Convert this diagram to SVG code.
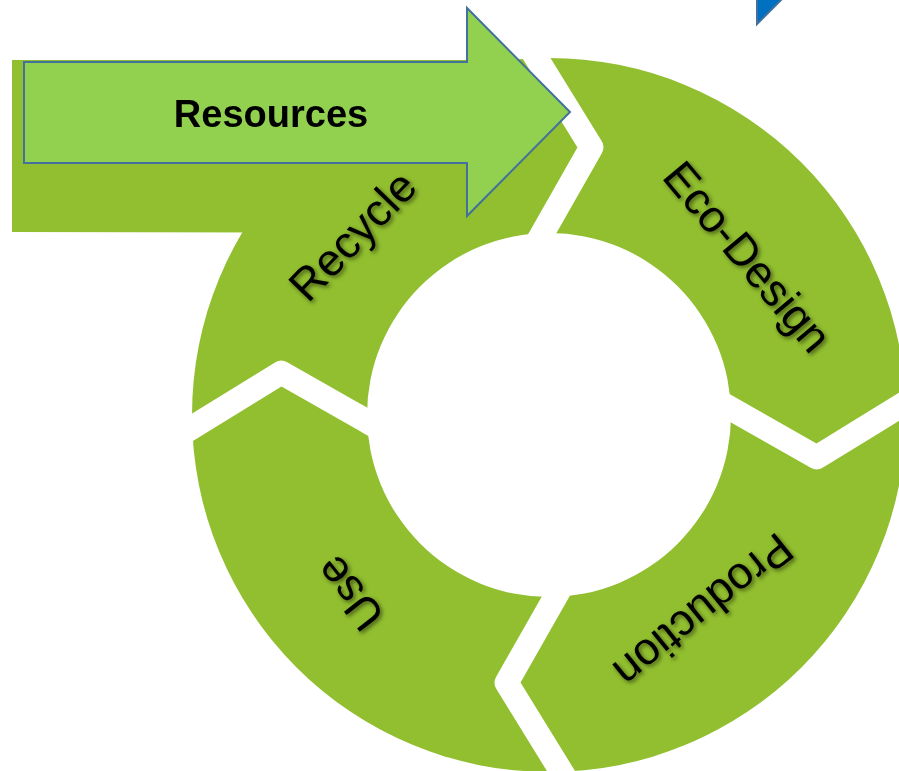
<svg xmlns="http://www.w3.org/2000/svg" width="899" height="771" viewBox="0 0 899 771">
  <defs>
    <style>
      .seg { fill: #91BF2F; }
      .lbl { font-family: "Liberation Sans", Arial, sans-serif; font-size: 45px; fill: #000; text-anchor: middle; }
      .gap { fill: none; stroke: #000; stroke-width: 24; stroke-linejoin: round; stroke-linecap: butt; }
      .res { fill: #92D050; stroke: #41719C; stroke-width: 2; }
    </style>
    <clipPath id="ring">
      <path clip-rule="evenodd" d="M192,415 a357,357 0 1,0 714,0 a357,357 0 1,0 -714,0 Z M367,415 a182,182 0 1,0 364,0 a182,182 0 1,0 -364,0 Z"/>
    </clipPath>
    <mask id="gaps" maskUnits="userSpaceOnUse" x="-400" y="-400" width="1800" height="1700">
      <rect x="-400" y="-400" width="1800" height="1700" fill="#fff"/>
      <polyline class="gap" points="503.6,4.7 591.4,147.3 518.2,276"/>
      <polyline class="gap" points="959.3,369.6 816.7,457.4 688,384.2"/>
      <polyline class="gap" points="594.4,825.3 506.6,682.7 579.8,554"/>
      <polyline class="gap" points="138.7,460.4 281.3,372.6 410,445.8"/>
    </mask>
    <filter id="shadow" x="-20%" y="-20%" width="140%" height="140%">
      <feGaussianBlur in="SourceAlpha" stdDeviation="2"/>
      <feOffset dx="1.5" dy="2" result="blur"/>
      <feFlood flood-color="#000" flood-opacity="0.55"/>
      <feComposite in2="blur" operator="in"/>
      <feMerge><feMergeNode/><feMergeNode in="SourceGraphic"/></feMerge>
    </filter>
  </defs>

  <g id="cycle" mask="url(#gaps)">
    <g id="recycle">
      <path class="seg" clip-path="url(#ring)" d="M549,415 L410,445.8 L281.3,372.6 L138.7,460.4 L-200,450 L-200,-200 L480,-200 L503.6,4.7 L591.4,147.3 L518.2,276 Z"/>
      <path class="seg" d="M12,60 L537.6,60 L591.4,147.3 L542.6,233.1 L12,232 Z"/>
      <g filter="url(#shadow)"><text class="lbl" transform="translate(353,236) rotate(-46)" dy="0.33em">Recycle</text></g>
    </g>
    <g id="eco-design">
      <path class="seg" clip-path="url(#ring)" d="M549,415 L518.2,276 L591.4,147.3 L503.6,4.7 L560,-300 L1200,-200 L1200,300 L959.3,369.6 L816.7,457.4 L688,384.2 Z"/>
      <g filter="url(#shadow)"><text class="lbl" transform="translate(747,257) rotate(50)" dy="0.33em">Eco-Design</text></g>
    </g>
    <g id="production">
      <path class="seg" clip-path="url(#ring)" d="M549,415 L688,384.2 L816.7,457.4 L959.3,369.6 L1200,400 L1200,1100 L700,1100 L594.4,825.3 L506.6,682.7 L579.8,554 Z"/>
      <g filter="url(#shadow)"><text class="lbl" transform="translate(703,610) rotate(141)" dy="0.33em">Production</text></g>
    </g>
    <g id="use">
      <path class="seg" clip-path="url(#ring)" d="M549,415 L579.8,554 L506.6,682.7 L594.4,825.3 L500,1100 L-200,1100 L-200,480 L138.7,460.4 L281.3,372.6 L410,445.8 Z"/>
      <g filter="url(#shadow)"><text class="lbl" transform="translate(350,593) rotate(232)" dy="0.33em">Use</text></g>
    </g>
  </g>

  <g id="resources">
    <path class="res" d="M24,62 L467,62 L467,8 L570,112 L467,216 L467,163 L24,163 Z"/>
    <text x="271" y="127" font-family="Liberation Sans, Arial, sans-serif" font-size="38" font-weight="bold" text-anchor="middle" fill="#000">Resources</text>
  </g>

  <g id="blue-arrow">
    <path d="M757,-3 L757,24 L784,-3 Z" fill="#0070C0" stroke="#41719C" stroke-width="2"/>
  </g>
</svg>
